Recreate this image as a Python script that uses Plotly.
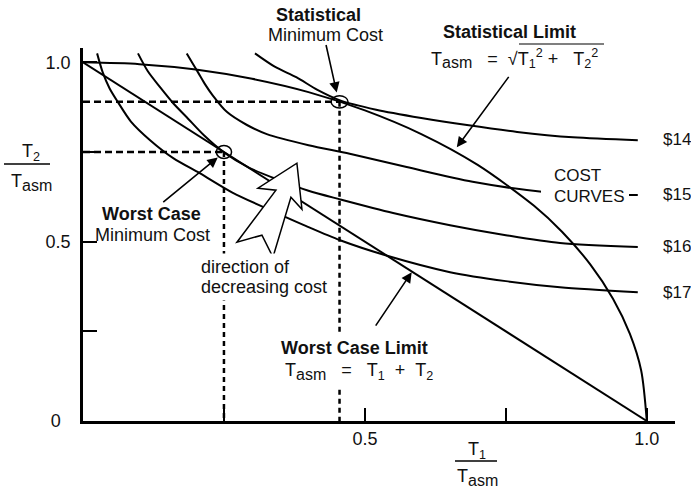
import plotly.graph_objects as go

# ---------------- data ----------------
# Worst case limit: T1 + T2 = Tasm
wc_x = [0.0, 1.0]
wc_y = [1.0, 0.0]
# Statistical limit: T1^2 + T2^2 = Tasm^2
st_x = [0.0, 0.1, 0.2, 0.3, 0.4, 0.5, 0.6, 0.7, 0.8, 0.85, 0.9, 0.94, 0.97, 0.99, 1.0]
st_y = [1.0, 0.995, 0.980, 0.954, 0.917, 0.866, 0.800, 0.714, 0.600, 0.527, 0.436, 0.341, 0.243, 0.141, 0.0]

# cost curves
c14_x = [0.305, 0.340, 0.379, 0.415, 0.456, 0.520, 0.600, 0.681, 0.770, 0.869, 0.984]
c14_y = [1.025, 0.988, 0.958, 0.924, 0.894, 0.868, 0.845, 0.825, 0.806, 0.791, 0.783]
c15_x = [0.184, 0.194, 0.204, 0.216, 0.230, 0.255, 0.290, 0.326, 0.400, 0.473, 0.574, 0.691, 0.810, 0.900, 0.984]
c15_y = [1.025, 0.998, 0.972, 0.940, 0.908, 0.862, 0.826, 0.800, 0.769, 0.745, 0.708, 0.667, 0.640, 0.632, 0.630]
c16_x = [0.0975, 0.115, 0.137, 0.160, 0.184, 0.215, 0.25, 0.295, 0.349, 0.400, 0.456, 0.550, 0.651, 0.750, 0.846, 0.984]
c16_y = [1.025, 0.975, 0.930, 0.886, 0.847, 0.796, 0.749, 0.706, 0.671, 0.642, 0.618, 0.580, 0.546, 0.518, 0.496, 0.485]
c17_x = [0.025, 0.035, 0.047, 0.062, 0.085, 0.119, 0.160, 0.207, 0.265, 0.332, 0.395, 0.456, 0.541, 0.651, 0.750, 0.846, 0.984]
c17_y = [1.025, 0.972, 0.928, 0.889, 0.835, 0.783, 0.733, 0.691, 0.637, 0.588, 0.544, 0.504, 0.460, 0.415, 0.390, 0.373, 0.359]
cost_labels = ["$14", "$15", "$16", "$17"]

stat_pt = [0.455, 0.89]
worst_pt = [0.25, 0.75]

x_tickvals = [0.25, 0.5, 0.75, 1.0]
x_ticktext = ["", "0.5", "", "1.0"]
y_tickvals = [0.0, 0.25, 0.5, 0.75, 1.0]
y_ticktext = ["0\u00a0\u00a0", "", "0.5", "", "1.0"]

FONT = "Liberation Sans, Arial, Helvetica, sans-serif"
FS = 18
BLK = "black"
SP = "\u00a0"
ASM = '<sub><span style="font-size:16px">asm</span></sub>'

fig = go.Figure()

def curve(x, y, w=2.0):
    fig.add_trace(go.Scatter(x=x, y=y, mode="lines",
                             line=dict(color=BLK, width=w, shape="spline", smoothing=0.8),
                             hoverinfo="skip", showlegend=False))

curve(wc_x, wc_y)
curve(st_x, st_y)
for cx, cy in [(c14_x, c14_y), (c15_x, c15_y), (c16_x, c16_y), (c17_x, c17_y)]:
    curve(cx, cy)

# dashed projection lines
for px_, py_ in [stat_pt, worst_pt]:
    fig.add_trace(go.Scatter(x=[0, px_], y=[py_, py_], mode="lines",
                             line=dict(color=BLK, width=2.5, dash="7px,4px"), hoverinfo="skip", showlegend=False))
    fig.add_trace(go.Scatter(x=[px_, px_], y=[py_, 0], mode="lines",
                             line=dict(color=BLK, width=2.5, dash="5px,4px"), hoverinfo="skip", showlegend=False))

# plot geometry helpers (paper coords)
L, R, T, B = 83, 16, 48, 71
W, H = 691 - L - R, 492 - T - B
def ppx(px):
    return (px - L) / W
def ppy(py):
    return (492 - B - py) / H

shapes = []
# ellipses around the minimum-cost points
for (px_, py_), hw, hh in [(stat_pt, 0.015, 0.017), (worst_pt, 0.0135, 0.018)]:
    shapes.append(dict(type="circle", xref="x", yref="y", x0=px_ - hw, x1=px_ + hw, y0=py_ - hh, y1=py_ + hh,
                       line=dict(color=BLK, width=1.5), fillcolor="rgba(0,0,0,0)", layer="above"))

# hollow "direction of decreasing cost" arrow
arrow_pts = [(0.3794, 0.7187), (0.3883, 0.5905), (0.3688, 0.6240), (0.3369, 0.4568),
             (0.3174, 0.5181), (0.2730, 0.4986), (0.3422, 0.6435), (0.3103, 0.6490)]
path = "M " + " L ".join(f"{a},{b}" for a, b in arrow_pts) + " Z"
shapes.append(dict(type="path", xref="x", yref="y", path=path, fillcolor="white",
                   line=dict(color=BLK, width=1.5), layer="above"))

# white gap behind the "COST CURVES" label
shapes.append(dict(type="rect", xref="paper", yref="paper", x0=ppx(541), x1=ppx(629), y0=ppy(205), y1=ppy(167),
                   fillcolor="white", line=dict(width=0), layer="above"))

# fraction bars for axis titles and sqrt overline
shapes.append(dict(type="line", xref="paper", yref="paper", x0=ppx(4), x1=ppx(50), y0=ppy(164), y1=ppy(164),
                   line=dict(color=BLK, width=1.5)))
shapes.append(dict(type="line", xref="paper", yref="paper", x0=ppx(455), x1=ppx(497), y0=ppy(461), y1=ppy(461),
                   line=dict(color=BLK, width=1.5)))
shapes.append(dict(type="line", xref="paper", yref="paper", x0=ppx(519), x1=ppx(604), y0=ppy(44), y1=ppy(44),
                   line=dict(color=BLK, width=1.2)))

ann = []
def text(px, py, s, xanchor="center", bg=None, size=FS, pad=1):
    d = dict(xref="paper", yref="paper", x=ppx(px), y=ppy(py), text=s, showarrow=False,
             xanchor=xanchor, yanchor="middle", font=dict(family=FONT, size=size, color="#111"), borderpad=pad)
    if bg:
        d["bgcolor"] = bg
    ann.append(d)

def arrow(hx, hy, ax, ay):
    ann.append(dict(x=hx, y=hy, xref="x", yref="y", text="", showarrow=True, ax=ax, ay=ay,
                    arrowhead=2, arrowsize=1.3, arrowwidth=1.6, arrowcolor=BLK, standoff=0))

text(318, 15, "<b>Statistical</b>")
text(325, 35, "Minimum Cost")
text(509, 32, "<b>Statistical Limit</b>")
text(429, 58, "T" + ASM + SP * 3 + "=" + SP * 2 + "√T<sub>1</sub><sup>2</sup>" + SP + "+" + SP * 3
     + "T<sub>2</sub><sup>2</sup>", xanchor="left")
for lab, cy in zip(cost_labels, [c14_y, c15_y, c16_y, c17_y]):
    ppos = 421 - cy[-1] * 359
    text(661, ppos, lab, xanchor="left", size=17)
text(552, 175, "COST", xanchor="left", size=17)
text(552, 196, "CURVES", xanchor="left", size=17)
text(354, 348, "<b>Worst Case Limit</b>", bg="white", pad=3)
text(281, 371, "T" + ASM + SP * 3 + "=" + SP * 3 + "T<sub>1</sub>" + SP * 2 + "+" + SP * 2 + "T<sub>2</sub>",
     xanchor="left", bg="white", pad=3)
text(151, 214, "<b>Worst Case</b>")
text(152, 235, "Minimum Cost")
text(197, 267, "direction of", xanchor="left", bg="white", pad=3)
text(197, 287, "decreasing cost", xanchor="left", bg="white", pad=3)
# axis titles
text(31, 152, "T<sub>2</sub>")
text(31, 182, "T" + ASM)
text(477, 450, "T<sub>1</sub>")
text(477, 477, "T" + ASM)

arrow(0.450, 0.916, -11, -49)
arrow(0.663, 0.763, 53, -72)
arrow(0.239, 0.735, -56, 46)
arrow(0.583, 0.415, -37, 55)

fig.update_layout(
    width=691, height=492, margin=dict(l=L, r=R, t=T, b=B),
    paper_bgcolor="white", plot_bgcolor="white",
    shapes=shapes, annotations=ann, showlegend=False,
    font=dict(family=FONT, size=FS, color="#111"),
    xaxis=dict(range=[0, 1.05], showgrid=False, zeroline=False, showline=True, linecolor=BLK, linewidth=2.5,
               ticks="inside", ticklen=13, tickwidth=2, tickcolor=BLK,
               tickvals=x_tickvals, ticktext=x_ticktext, fixedrange=True,
               tickfont=dict(family=FONT, size=FS, color="#111")),
    yaxis=dict(range=[0, 1.04], showgrid=False, zeroline=False, showline=True, linecolor=BLK, linewidth=2.5,
               ticks="inside", ticklen=14, tickwidth=2, tickcolor=BLK,
               tickvals=y_tickvals, ticktext=y_ticktext, ticklabelstandoff=6, fixedrange=True,
               tickfont=dict(family=FONT, size=FS, color="#111")),
)

fig.write_html("out.html", config={"displayModeBar": False})
